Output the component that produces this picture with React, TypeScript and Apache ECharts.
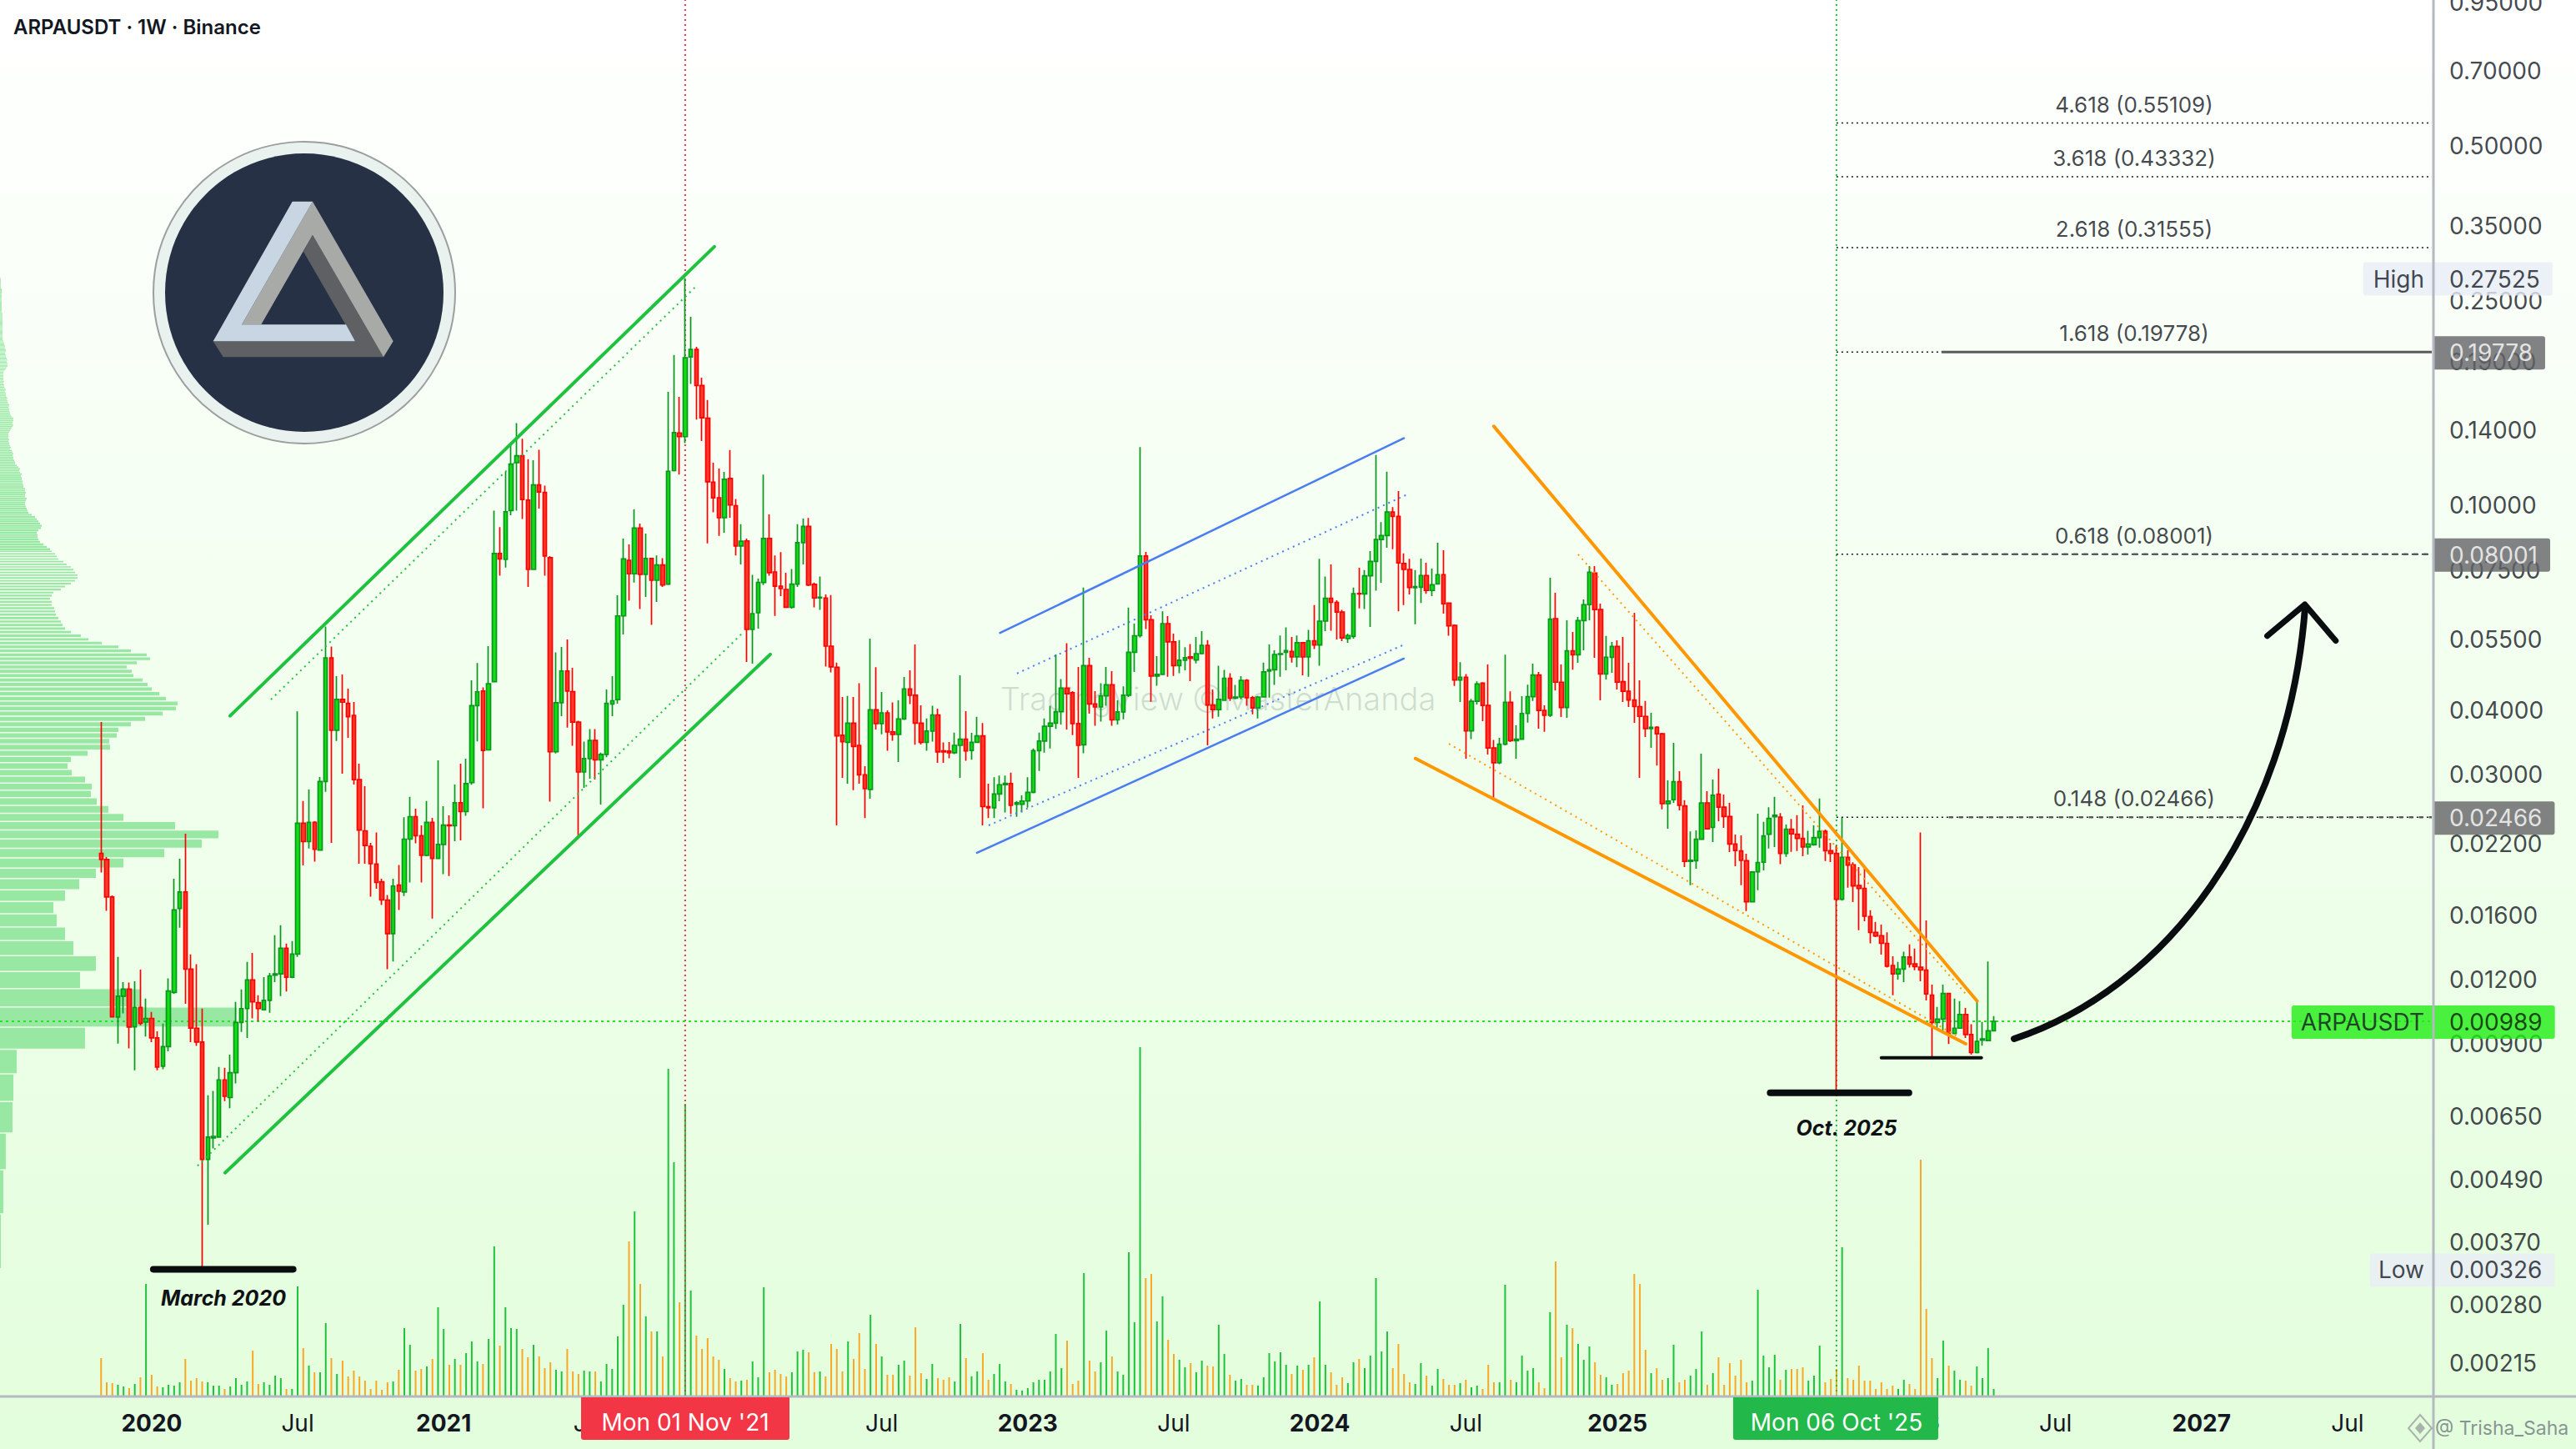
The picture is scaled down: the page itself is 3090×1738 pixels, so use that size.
import React, { useEffect, useRef } from "react";
import * as echarts from "echarts";

const FONT = "Inter, 'Noto Sans', sans-serif";
const FIRST_CANDLE_WEEK = 18; // first bar: Mon 04 Nov 2019
const TOTAL_WEEKS = 434;
const CHART_START = Date.UTC(2019, 6, 1);

const weekLabels = Array.from({ length: TOTAL_WEEKS }, (_, i) =>
  new Date(CHART_START + i * 7 * 864e5).toISOString().slice(0, 10)
);

const timeTicks: [number, string, boolean][] = [
  [27, "2020", true], [53, "Jul", false], [79, "2021", true], [105, "Jul", false], [131, "2022", true],
  [157, "Jul", false], [183, "2023", true], [209, "Jul", false], [235, "2024", true], [261, "Jul", false],
  [288, "2025", true], [314, "Jul", false], [340, "2026", true], [366, "Jul", false], [392, "2027", true], [418, "Jul", false],
];

const priceTicks = [0.95, 0.7, 0.5, 0.35, 0.25, 0.19, 0.14, 0.1, 0.075, 0.055, 0.04, 0.03, 0.022, 0.016, 0.012, 0.009, 0.0065, 0.0049, 0.0037, 0.0028, 0.00215];

// weekly [open, close, low, high]
const ohlc: number[][] = [
[.02097,.02041,.01925,.03776],[.02041,.01725,.01622,.02063],[.01725,.01009,.01009,.01737],[.01008,.01107,.00895,.0132],[.01107,.01142,.01025,.01179],
[.01142,.00964,.00876,.01176],[.00965,.01052,.00794,.01183],[.01052,.0098,.00972,.01247],[.00986,.01002,.00924,.01095],[.01002,.00918,.00901,.01031],
[.00918,.00806,.00794,.00946],[.00809,.00883,.00798,.00979],[.00883,.01133,.00865,.01198],[.01125,.01628,.01119,.01872],[.01639,.01764,.01503,.02048],
[.01764,.01249,.0107,.0229],[.01249,.00959,.00901,.01334],[.00959,.00901,.00886,.01277],[.00901,.00533,.00326,.01047],[.00533,.00589,.00398,.0071],
[.00587,.00591,.0056,.00724],[.00589,.00761,.00589,.00806],[.00761,.00707,.00692,.00803],[.00703,.00786,.0067,.00852],[.00786,.00984,.00749,.01079],
[.00984,.01047,.00943,.01141],[.01047,.0119,.00918,.0129],[.0119,.01079,.01002,.01343],[.01075,.01047,.0099,.01111],[.01041,.01086,.01039,.01205],
[.01086,.01212,.01028,.01228],[.01216,.01223,.01179,.01454],[.01223,.01371,.01107,.0152],[.01371,.01205,.0113,.014],[.01205,.01336,.012,.01417],
[.01336,.024,.0132,.0396],[.024,.02211,.01988,.0265],[.02211,.0241,.02144,.0279],[.0241,.02136,.0202,.02422],[.02128,.02893,.02128,.02952],
[.02893,.05032,.02761,.05788],[.05032,.03638,.02198,.05292],[.03638,.04179,.03468,.04637],[.04179,.04125,.02996,.04671],[.04103,.03865,.03517,.04384],
[.0389,.02918,.02855,.04129],[.02918,.02328,.02003,.03133],[.0232,.02173,.02003,.02833],[.02165,.02003,.01728,.02198],[.01999,.01841,.0179,.02302],
[.01847,.01702,.01664,.01872],[.01702,.01464,.01249,.0174],[.01464,.01812,.01293,.01872],[.01819,.0177,.01628,.0199],[.01764,.02235,.01733,.02465],
[.02235,.02472,.01841,.027],[.02472,.0227,.02193,.02562],[.0227,.02078,.01841,.02378],[.02078,.0241,.0207,.0265],[.0241,.02051,.01567,.02458],
[.02051,.02183,.02051,.0318],[.02183,.02381,.01911,.0259],[.02381,.02373,.01894,.02486],[.02373,.0263,.02215,.02853],[.0263,.02528,.02223,.03133],
[.02528,.02866,.02481,.03205],[.02878,.04061,.0285,.04549],[.04061,.04322,.03463,.04914],[.04336,.03325,.02566,.04409],[.03332,.04482,.03325,.05302],
[.04521,.08029,.0451,.09727],[.08029,.07833,.07268,.09028],[.07816,.09677,.07539,.1156],[.09727,.11975,.09526,.1305],[.1205,.1243,.09727,.1438],
[.1243,.1022,.09363,.1342],[.1019,.07474,.06911,.1224],[.07474,.1091,.07474,.1219],[.1091,.1057,.09815,.1277],[.1055,.07935,.07268,.1087],
[.0788,.03304,.02644,.07935],[.03304,.04116,.0328,.05156],[.04116,.04745,.03877,.05283],[.04745,.04336,.03682,.05465],[.04323,.03775,.03394,.04814],
[.03775,.03018,.02265,.03796],[.03018,.03206,.02812,.03457],[.03206,.03476,.0293,.03658],[.03477,.03186,.02918,.03658],[.03186,.03266,.0261,.03291],
[.03266,.04103,.03225,.04367],[.04091,.04152,.03877,.04637],[.04173,.0607,.04098,.06655],[.0607,.07833,.05588,.08583],[.07787,.07328,.06498,.08361],
[.07328,.08994,.0705,.09777],[.08994,.07309,.0626,.09178],[.07309,.07847,.06608,.08776],[.07847,.0712,.0583,.07847],[.0712,.07626,.06464,.07953],
[.07626,.06969,.06911,.07858],[.06997,.1159,.06969,.1654],[.1163,.1379,.1159,.1952],[.1377,.1354,.1143,.1618],[.1354,.1928,.1315,.27525],
[.1935,.2,.1714,.2316],[.2,.1703,.1462,.2024],[.1703,.1473,.1328,.1763],[.147,.1106,.08399,.1595],[.1104,.103,.09649,.1205],
[.103,.09419,.08683,.1174],[.09419,.1119,.08805,.1156],[.1123,.0997,.09419,.1275],[.0994,.08298,.07953,.1024],[.08298,.0848,.07645,.0915],
[.08493,.05713,.0494,.08583],[.05713,.06133,.04902,.07292],[.06156,.0705,.05734,.07174],[.0705,.08583,.06969,.1143],[.08583,.07364,.07268,.0956],
[.07391,.06935,.0607,.07953],[.06935,.06859,.06633,.08077],[.06834,.06308,.06308,.07364],[.06308,.06997,.06273,.07488],[.06997,.08424,.06911,.0915],
[.08424,.09058,.07645,.09386],[.09058,.06969,.06935,.09411],[.06994,.06577,.06308,.0705],[.06577,.06599,.06238,.07239],[.06577,.05302,.0484,.06682],
[.05302,.04831,.04713,.06665],[.04824,.03549,.02378,.04927],[.03559,.03457,.0294,.04223],[.03446,.03757,.02865,.04243],[.03757,.03384,.02784,.04223],
[.03401,.0298,.02865,.04492],[.0298,.02803,.02455,.03097],[.02791,.03988,.02679,.05482],[.03988,.03749,.03651,.04824],[.03749,.03934,.03574,.04319],
[.03934,.03613,.03318,.03979],[.03613,.03571,.03472,.04122],[.03571,.03826,.03157,.0416],[.03826,.04377,.03811,.0462],[.04377,.04255,.04092,.04759],
[.04255,.03757,.03409,.05344],[.03757,.03446,.03414,.04067],[.03446,.03625,.0332,.03836],[.03625,.03897,.03457,.04062],[.03897,.03303,.03145,.04008],
[.03318,.03303,.03145,.03446],[.03314,.03289,.0321,.03451],[.03289,.03401,.0327,.036],[.03401,.03497,.0294,.04654],[.03497,.03318,.03175,.03964],
[.03325,.03446,.03188,.03598],[.03446,.03549,.03446,.03865],[.03549,.02585,.02378,.03757],[.02585,.02572,.02455,.02865],[.02572,.02736,.02455,.02948],
[.02736,.02851,.02649,.0297],[.02851,.02868,.02519,.0297],[.02865,.026,.025,.03009],[.02614,.0263,.0247,.0265],[.02614,.02651,.02519,.02719],
[.02651,.02755,.02574,.02948],[.02755,.03321,.02743,.03354],[.03321,.03467,.03031,.036],[.03467,.03703,.03291,.03836],[.03703,.03757,.03354,.04062],
[.03757,.03955,.03661,.05108],[.03955,.04395,.03732,.04574],[.04395,.04285,.03651,.0537],[.04305,.03749,.03559,.04336],[.03749,.03401,.0294,.04831],
[.03409,.04858,.03281,.06893],[.04858,.04092,.03919,.05032],[.04092,.04038,.03714,.04336],[.04038,.04243,.03781,.04492],[.04243,.04458,.04062,.04831],
[.04458,.03811,.03714,.04741],[.03811,.03949,.03732,.0416],[.03949,.04255,.03821,.04427],[.04255,.05158,.04223,.06298],[.05158,.05555,.04724,.05864],
[.05555,.07938,.05508,.1292],[.07938,.05966,.05724,.0808],[.05966,.04637,.04132,.06088],[.04637,.04671,.04442,.0507],[.04671,.05864,.04671,.06193],
[.05864,.05406,.04621,.06064],[.05406,.04858,.04641,.05607],[.04858,.04977,.04698,.05445],[.04977,.05034,.04759,.05276],[.05054,.05019,.04535,.05352],
[.04984,.05127,.04906,.05525],[.05127,.05322,.05108,.05671],[.05322,.04073,.03401,.05445],[.04073,.03991,.03836,.04367],[.03991,.04178,.03865,.04858],
[.0416,.04592,.04147,.04768],[.04592,.04199,.04147,.04698],[.04199,.04223,.04178,.04458],[.04223,.0455,.04178,.04637],[.0455,.0421,.04062,.04574],
[.0421,.04022,.03908,.04243],[.04022,.04223,.03836,.04243],[.04223,.04724,.0421,.04927],[.04741,.04768,.0421,.05344],[.04768,.05108,.04458,.05204],
[.05108,.05127,.04621,.05559],[.05158,.05195,.04759,.05766],[.05179,.05054,.04927,.05525],[.05054,.05383,.04824,.05559],[.05383,.05051,.04654,.05403],
[.05054,.05431,.04621,.05701],[.05431,.0533,.05233,.06371],[.0533,.0593,.04858,.07836],[.0593,.06567,.05671,.07239],[.06567,.06449,.05683,.07645],
[.06449,.06174,.05464,.06511],[.06174,.055,.05424,.06237],[.05484,.05559,.05383,.05607],[.05539,.06705,.05484,.06893],[.06714,.06697,.0628,.0753],
[.06697,.07266,.0626,.07452],[.07266,.07748,.05777,.0811],[.07748,.08543,.06795,.1247],[.08543,.08696,.0704,.09235],[.08696,.09665,.08235,.1158],
[.09665,.09476,.08178,.0988],[.09476,.07694,.06193,.1061],[.07673,.07474,.06371,.08029],[.07474,.06893,.06682,.07836],[.06885,.0692,.05846,.07452],
[.06903,.07274,.0643,.07847],[.07274,.06802,.06704,.07701],[.06802,.06978,.06633,.07503],[.07005,.07302,.07005,.08424],[.07302,.06407,.06132,.0814],
[.0643,.05804,.05555,.06437],[.0582,.04555,.04437,.05842],[.04555,.04613,.04129,.04934],[.04613,.03628,.03205,.04681],[.03628,.04142,.03496,.04186],
[.04142,.04477,.04083,.04527],[.04494,.04067,.0379,.04511],[.04067,.03362,.03264,.04885],[.03362,.03145,.0268,.03486],[.03145,.03418,.03128,.03517],
[.03418,.04124,.03401,.05102],[.04124,.03473,.03451,.04331],[.03473,.03496,.03205,.03719],[.03496,.03923,.03496,.04239],[.03923,.04228,.03766,.04461],
[.04228,.04659,.04147,.04902],[.04659,.03976,.03665,.04724],[.03976,.03892,.03613,.04067],[.03892,.05985,.03862,.07201],[.05995,.04512,.04348,.06734],
[.04512,.04027,.03862,.04885],[.04027,.0519,.03847,.05952],[.0519,.05102,.04772,.0565],[.05102,.05945,.04921,.0604],[.05945,.06383,.05204,.06535],
[.06383,.0738,.05952,.07587],[.07355,.06245,.05032,.07587],[.06245,.0468,.0416,.06414],[.0468,.05045,.04567,.05548],[.05045,.05296,.04706,.05403],
[.05296,.04512,.04367,.0544],[.04522,.04331,.04129,.05525],[.04331,.04167,.04038,.04921],[.04167,.04045,.03761,.06156],[.04045,.03872,.0294,.0455],
[.03872,.03665,.03531,.04147],[.03665,.03688,.03362,.03934],[.03688,.03581,.03108,.03705],[.03581,.0262,.02553,.03598],[.0262,.0265,.02341,.02907],
[.02666,.02889,.0263,.03438],[.02889,.026,.02543,.03029],[.02594,.02024,.01973,.0266],[.02024,.02034,.01818,.02314],[.02029,.02234,.01958,.02324],
[.02234,.02629,.02234,.03276],[.02629,.02341,.02333,.02771],[.02355,.02719,.02206,.02918],[.02734,.02579,.02422,.03063],[.02579,.02474,.0235,.02729],
[.02474,.02186,.0211,.02629],[.02186,.02125,.0198,.02282],[.0212,.02032,.01818,.02273],[.02029,.01689,.0162,.02094],[.01689,.01929,.01689,.01936],
[.01931,.02012,.01779,.02505],[.02015,.02268,.01943,.02414],[.02284,.02453,.02143,.02579],[.0247,.02487,.02157,.027],[.02467,.02096,.01998,.02511],
[.02096,.02336,.02065,.02386],[.02336,.02288,.02112,.02446],[.02284,.02242,.0212,.02487],[.02242,.02159,.0207,.026],[.02159,.02186,.02086,.02321],
[.0218,.0225,.0217,.02378],[.0225,.02315,.02151,.0268],[.02315,.02123,.02026,.02333],[.02123,.02096,.02018,.02198],[.02096,.01708,.00723,.0217],
[.01708,.0206,.01697,.02463],[.0206,.01989,.01799,.02128],[.01992,.01813,.01686,.02016],[.01816,.01793,.01487,.01973],[.01793,.01583,.01548,.01965],
[.01581,.01472,.01402,.01626],[.01472,.01449,.01442,.01543],[.01451,.01402,.01333,.01525],[.01402,.01266,.01258,.01473],[.0127,.01223,.01111,.01323],
[.01223,.01249,.01192,.0129],[.01249,.01319,.01179,.0135],[.01319,.01277,.01258,.01395],[.01279,.01263,.01243,.01369],[.0126,.01244,.01183,.02303],
[.01244,.01118,.01086,.01553],[.01112,.00984,.00839,.01166],[.00984,.00999,.00957,.01055],[.00999,.0112,.00942,.01166],[.0112,.00936,.00893,.01123],
[.00936,.00959,.00933,.01095],[.00959,.0102,.00957,.01083],[.0102,.00932,.00918,.0105],[.00932,.0086,.00852,.00976],[.0086,.00904,.00857,.01086],
[.00909,.00914,.00887,.00986],[.00907,.00948,.00907,.01293],[.00948,.00989,.00946,.01012],
];

// volume, in arbitrary units
const volume = [
45,16,15,13,11,9,14,22,134,25,11,10,13,12,16,44,18,21,17,16,12,12,8,11,21,13,17,54,14,16,13,24,21,8,8,131,57,36,28,28,
87,45,26,42,23,30,23,18,8,18,7,16,17,31,81,61,30,32,35,44,106,80,37,44,37,51,65,41,38,68,179,60,106,81,80,56,46,61,47,33,
40,31,29,56,29,26,30,29,29,17,38,32,71,109,185,221,134,95,77,77,47,392,280,112,350,126,72,56,69,47,43,32,21,17,18,19,41,22,130,28,
31,26,23,28,53,55,52,28,29,23,62,56,29,65,44,75,32,97,62,47,25,25,37,42,24,82,27,20,38,21,19,22,17,86,45,23,29,51,19,26,
38,17,14,7,6,9,16,19,19,29,74,33,66,14,18,147,42,29,40,78,47,29,25,172,88,418,141,146,89,119,67,50,43,34,39,28,42,36,35,85,
50,25,18,20,13,13,12,22,51,41,52,37,26,36,31,37,46,113,37,28,13,22,15,40,44,33,48,141,53,77,33,62,26,16,14,39,24,12,32,20,
13,13,15,19,10,12,8,37,16,16,133,19,16,48,30,33,16,9,100,161,46,85,81,62,43,59,40,25,22,13,14,27,30,146,134,55,27,33,19,21,
61,16,19,24,32,77,13,27,46,13,39,24,43,16,18,127,48,34,49,19,31,32,32,34,18,24,60,16,20,32,178,21,19,36,18,18,8,16,8,12,
8,19,14,8,283,104,45,21,66,36,30,19,18,12,35,21,57,8,
];

// fixed-range volume profile, 300 equal price rows above the all-time low
const PROFILE_LOW = 0.00326;
const PROFILE_STEP = 0.000907;
const profileWidths = [
1,4,7,15,16,20,102,284,168,96,115,88,78,68,64,78,95,115,148,197,242,262,210,148,130,116,109,110,102,86,81,85,105,132,131,140,142,157,174,195,
211,213,199,191,182,177,171,160,158,152,164,180,176,157,142,122,106,97,85,78,75,73,70,67,66,65,62,62,60,62,64,73,78,85,90,93,93,90,88,85,
80,76,70,68,66,62,60,56,52,48,46,45,45,44,46,49,50,48,46,44,42,38,34,33,32,31,30,30,31,32,30,30,31,30,30,28,28,27,27,26,
26,25,26,24,23,24,22,20,18,18,17,16,16,15,16,15,14,12,13,12,11,11,10,11,10,10,10,10,11,12,13,14,15,16,15,15,16,16,16,14,
13,12,12,11,11,11,10,11,11,10,9,9,8,9,8,7,7,7,6,6,7,6,5,5,5,4,4,5,4,4,4,4,4,4,4,4,5,6,7,8,
9,9,9,9,8,8,9,8,8,7,7,7,6,6,7,7,7,6,6,6,6,5,5,5,4,4,3,3,3,3,3,3,3,3,3,3,3,3,3,3,
3,3,3,3,3,3,3,3,3,3,3,3,3,3,3,3,2,2,2,2,2,2,2,2,2,2,2,2,2,2,2,2,2,2,2,2,2,2,2,2,
2,2,2,2,2,2,1,1,1,1,1,1,1,1,1,1,1,1,1,1,
];

// drawn lines, in [week index, price]
const channelLines: { pts: number[][]; color: string; width: number; dash?: number[] }[] = [
  { pts: [[40.97, 0.0388], [127.2, 0.3168]], color: "#1fc23f", width: 4 },
  { pts: [[40.08, 0.00502], [137.15, 0.05108]], color: "#1fc23f", width: 4 },
  { pts: [[48.24, 0.04175], [123.7, 0.2638]], color: "#1fc23f", width: 2, dash: [2, 5] },
  { pts: [[35.18, 0.00518], [132.1, 0.05608]], color: "#1fc23f", width: 2, dash: [2, 5] },
  { pts: [[178.06, 0.05623], [249.96, 0.1345]], color: "#4a7df0", width: 2.5 },
  { pts: [[173.96, 0.02102], [249.96, 0.05014]], color: "#4a7df0", width: 2.5 },
  { pts: [[181.09, 0.04692], [250.96, 0.105]], color: "#4a7df0", width: 2, dash: [2, 5] },
  { pts: [[176.04, 0.02377], [249.92, 0.05332]], color: "#4a7df0", width: 2, dash: [2, 5] },
  { pts: [[265.99, 0.1418], [352.04, 0.01083]], color: "#ff9800", width: 4 },
  { pts: [[252.04, 0.03207], [350.01, 0.00894]], color: "#ff9800", width: 4 },
  { pts: [[280.99, 0.07994], [350.01, 0.01118]], color: "#ff9800", width: 2, dash: [2, 5] },
  { pts: [[257.98, 0.03424], [348.53, 0.00925]], color: "#ff9800", width: 2, dash: [2, 5] },
];

const supportBars: { pts: number[][]; width: number }[] = [
  { pts: [[27.3, 0.00326], [52.2, 0.00326]], width: 8 },
  { pts: [[315.2, 0.00718], [339.9, 0.00718]], width: 8 },
  { pts: [[335, 0.0084], [352.8, 0.0084]], width: 4 },
];

const arrowHead = [[403.7, 0.0555], [410.4, 0.0639], [415.9, 0.0543]];

const fibLevels = [
  { name: "4.618 (0.55109)", price: 0.55109 },
  { name: "3.618 (0.43332)", price: 0.43332 },
  { name: "2.618 (0.31555)", price: 0.31555 },
  { name: "1.618 (0.19778)", price: 0.19778 },
  { name: "0.618 (0.08001)", price: 0.08001 },
  { name: "0.148 (0.02466)", price: 0.02466 },
];
const fibStartWeek = 327;
const HIGH = 0.27525;
const LOW = 0.00326;
const LAST = 0.00989;
const NOV21_WEEK = 122;
const OCT25_WEEK = 327;
const Y_MAX = 0.9558;
const Y_MIN = 0.0018448;

const lineOn = (name: string, data: number[][], style: any, extra: any = {}) => ({
  name,
  type: "line",
  xAxisIndex: 1,
  yAxisIndex: 0,
  data,
  showSymbol: false,
  symbol: "none",
  silent: true,
  clip: false,
  z: 6,
  lineStyle: { cap: "round", join: "round", ...style },
  ...extra,
});

export default function App() {
  const ref = useRef<HTMLDivElement>(null);
  useEffect(() => {
    document.body.style.margin = "0";
    const chart = echarts.init(ref.current!, undefined, { renderer: "svg" });
    const tickMap = new Map(timeTicks.map((t) => [t[0], t]));
    const candleData = ohlc.map((r, i) => [i + FIRST_CANDLE_WEEK, ...r]);
    const volumeData = volume.map((v, i) => {
      const r = ohlc[i];
      const up = r ? r[1] >= r[0] : true;
      return { value: [i + FIRST_CANDLE_WEEK, v], itemStyle: { color: up ? "#1fc23c" : "#f9a825" } };
    });
    const profileData = profileWidths.map((w, k) => [PROFILE_LOW + k * PROFILE_STEP, PROFILE_LOW + (k + 1) * PROFILE_STEP, w]);

    const rightTag = (value: number, bg: string, color: string) => ({
      value: [433, value],
      label: {
        show: true, position: "right", distance: 3, offset: [0, 1], formatter: value.toFixed(5), backgroundColor: bg, color,
        padding: [6, 15, 6, 18], borderRadius: [0, 3, 3, 0], fontSize: 28, fontFamily: FONT, lineHeight: 28,
      },
    });
    const leftTag = (value: number, text: string, bg: string, pad: number) => ({
      value: [433, value],
      label: {
        show: true, position: "left", distance: -2, offset: [0, 1], formatter: text, backgroundColor: bg, color: "#131722",
        padding: [6, 11, 6, pad], borderRadius: [3, 0, 0, 3], fontSize: 28, fontFamily: FONT, lineHeight: 28,
      },
    });

    const fibSeries: any[] = fibLevels.map((f) =>
      lineOn("fib " + f.name, [[fibStartWeek, f.price], [433, f.price]], { color: "#131722", width: 1.5, type: [2, 4], cap: "butt" })
    );

    const option: any = {
      animation: false,
      backgroundColor: new echarts.graphic.LinearGradient(0, 0, 0, 1, [
        { offset: 0, color: "#ffffff" },
        { offset: 1, color: "#e3fedc" },
      ]),
      grid: { left: 0, top: 0, width: 2917, height: 1675, containLabel: false },
      tooltip: { show: false },
      xAxis: [
        {
          type: "category", data: weekLabels, boundaryGap: false, axisLine: { show: false }, axisTick: { show: false }, splitLine: { show: false },
          axisLabel: {
            margin: 18, hideOverlap: false, interval: (i: number) => tickMap.has(i),
            formatter: (_: string, i: number) => { const t = tickMap.get(i); return t ? (t[2] ? `{y|${t[1]}}` : `{m|${t[1]}}`) : ""; },
            rich: {
              y: { fontFamily: FONT, fontSize: 28, fontWeight: 700, color: "#131722" },
              m: { fontFamily: FONT, fontSize: 28, fontWeight: 400, color: "#131722" },
            },
          },
        },
        { type: "value", min: 0, max: 433, show: false, splitLine: { show: false } },
        { type: "value", min: 0, max: 2917, show: false, splitLine: { show: false } },
      ],
      yAxis: [
        { type: "log", logBase: 10, min: Y_MIN, max: Y_MAX, position: "right", axisLine: { show: false }, axisTick: { show: false }, axisLabel: { show: false }, splitLine: { show: false } },
        { type: "value", min: -1, max: 1674, show: false, splitLine: { show: false } },
      ],
      series: [
        {
          name: "Volume profile", type: "custom", xAxisIndex: 2, yAxisIndex: 0, z: 1, silent: true, clip: false,
          data: profileData, encode: { x: 2, y: [0, 1] },
          renderItem: (_: any, api: any) => {
            const a = api.coord([0, api.value(1)]);
            const b = api.coord([api.value(2), api.value(0)]);
            const h = b[1] - a[1];
            return { type: "rect", shape: { x: a[0], y: a[1], width: b[0] - a[0], height: h > 3 ? h - 1.5 : Math.max(h - 0.5, 0.8) }, style: { fill: "#98e8a4" } };
          },
        },
        { name: "Volume", type: "bar", xAxisIndex: 0, yAxisIndex: 1, barWidth: 2, z: 2, silent: true, data: volumeData },
        lineOn("Cross Nov 21", [[NOV21_WEEK, Y_MIN], [NOV21_WEEK, Y_MAX]], { color: "#e0364a", width: 2, type: [2, 4], cap: "butt" }, { z: 2 }),
        lineOn("Cross Oct 25", [[OCT25_WEEK, Y_MIN], [OCT25_WEEK, Y_MAX]], { color: "#1fc23f", width: 2, type: [2, 4], cap: "butt" }, { z: 2 }),
        lineOn("Last price", [[0, LAST], [433, LAST]], { color: "#22e61e", width: 2, type: [3, 4], cap: "butt" }, { z: 2 }),
        {
          name: "ARPAUSDT", type: "candlestick", xAxisIndex: 0, yAxisIndex: 0, barWidth: 5, z: 4, silent: true, clip: false,
          data: candleData, encode: { x: 0, y: [1, 2, 3, 4] },
          itemStyle: { color: "#12dc12", color0: "#ff3a2a", borderColor: "#0a961e", borderColor0: "#fb0000", borderWidth: 1.7 },
        },
        ...channelLines.map((l, i) => lineOn("Channel " + i, l.pts, { color: l.color, width: l.width, type: l.dash || "solid", cap: l.dash ? "butt" : "round" })),
        ...fibSeries,
        lineOn("Ray 1.618", [[345.7, 0.19778], [433, 0.19778]], { color: "#5a5a5e", width: 3, cap: "butt" }),
        lineOn("Ray 0.618", [[346, 0.08001], [433, 0.08001]], { color: "#5a5a5e", width: 2.5, type: [5, 7], cap: "butt" }),
        lineOn("Ray 0.148", [[347, 0.02466], [433, 0.02466]], { color: "#5a5a5e", width: 2.5, type: [5, 7], cap: "butt" }),
        ...supportBars.map((b, i) => lineOn("Support " + i, b.pts, { color: "#0a0d0f", width: b.width }, { z: 5 })),
        lineOn("Arrow head", arrowHead, { color: "#0a0d0f", width: 7 }, { z: 7 }),
        {
          name: "Fib labels", type: "scatter", xAxisIndex: 1, yAxisIndex: 0, symbolSize: 0, silent: true, clip: false, z: 7,
          data: fibLevels.map((f) => ({ value: [380, f.price], name: f.name })),
          label: { show: true, position: "top", distance: 11, offset: [0, 1.5], formatter: "{b}", color: "#131722", fontSize: 26, fontFamily: FONT },
        },
        {
          name: "Price scale", type: "scatter", xAxisIndex: 1, yAxisIndex: 0, symbolSize: 0, silent: true, clip: false, z: 3,
          data: priceTicks.map((p) => [433, p]),
          label: { show: true, position: "right", distance: 21, offset: [0, 1.5], formatter: (d: any) => d.value[1].toFixed(5), color: "#131722", fontSize: 28, fontFamily: FONT },
        },
        {
          name: "Price tags", type: "scatter", xAxisIndex: 1, yAxisIndex: 0, symbolSize: 0, silent: true, clip: false, z: 20,
          data: [
            leftTag(HIGH, "High", "#e8ecf6", 12),
            leftTag(LOW, "Low", "#e8ecf6", 10),
            leftTag(LAST, "ARPAUSDT", "#22ec14", 11),
            rightTag(HIGH, "#e8ecf6", "#131722"),
            rightTag(LOW, "#e8ecf6", "#131722"),
            rightTag(LAST, "#22ec14", "#0a1a0a"),
            rightTag(0.19778, "#636366", "#ffffff"),
            rightTag(0.08001, "#636366", "#ffffff"),
            rightTag(0.02466, "#636366", "#ffffff"),
          ],
        },
      ],
      graphic: {
        elements: [
          { type: "text", z: 0, silent: true, style: { text: "TradingView @MasterAnanda", x: 1461, y: 838, textAlign: "center", textVerticalAlign: "middle", fontFamily: FONT, fontSize: 38, fontWeight: 300, fill: "rgba(120,135,130,0.28)" } },
          { type: "bezierCurve", z: 7, silent: true, shape: { x1: 2416, y1: 1246, cpx1: 2600, cpy1: 1185, cpx2: 2745, cpy2: 990, x2: 2765, y2: 729 }, style: { fill: "none", stroke: "#0a0d0f", lineWidth: 8, lineCap: "round" } },
          { type: "line", z: 50, silent: true, shape: { x1: 2919, y1: 0, x2: 2919, y2: 1738 }, style: { stroke: "#b4b8c0", lineWidth: 3 } },
          { type: "line", z: 50, silent: true, shape: { x1: 0, y1: 1675, x2: 3090, y2: 1675 }, style: { stroke: "#b4b8c0", lineWidth: 3 } },
          { type: "text", z: 60, style: { text: "ARPAUSDT · 1W · Binance", x: 16, y: 32, textVerticalAlign: "middle", fontFamily: FONT, fontSize: 24, fontWeight: 600, fill: "#131722" } },
          { type: "circle", z: 30, shape: { cx: 365, cy: 351, r: 181 }, style: { fill: "#e9f2ee", stroke: "#9c9f9f", lineWidth: 2 } },
          { type: "circle", z: 31, shape: { cx: 365, cy: 351, r: 167 }, style: { fill: "#263145" } },
          { type: "polygon", z: 32, shape: { points: [[375, 281.7], [460, 428.3], [267.7, 428.3], [255.7, 409.3], [426, 409.3], [364, 301.7]] }, style: { fill: "#5f6064" } },
          { type: "polygon", z: 33, shape: { points: [[375, 241.7], [471.7, 409.3], [460, 428.3], [375, 281.7], [313.3, 389.3], [290, 389.3]] }, style: { fill: "#a8aaa7" } },
          { type: "polygon", z: 34, shape: { points: [[350.7, 241.7], [375, 241.7], [290, 389.3], [415, 389.3], [426, 409.3], [255.7, 409.3]] }, style: { fill: "#c8d5e2" } },
          { type: "text", z: 60, style: { text: "March 2020", x: 268, y: 1557, textAlign: "center", textVerticalAlign: "middle", fontFamily: FONT, fontSize: 25, fontWeight: 700, fontStyle: "italic", fill: "#0f1214" } },
          { type: "text", z: 60, style: { text: "Oct. 2025", x: 2215, y: 1353, textAlign: "center", textVerticalAlign: "middle", fontFamily: FONT, fontSize: 25, fontWeight: 700, fontStyle: "italic", fill: "#0f1214" } },
          { type: "rect", z: 55, shape: { x: 697, y: 1676, width: 250, height: 51, r: [0, 0, 3, 3] }, style: { fill: "#f23645" } },
          { type: "text", z: 56, style: { text: "Mon 01 Nov '21", x: 822, y: 1706, textAlign: "center", textVerticalAlign: "middle", fontFamily: FONT, fontSize: 28, fill: "#ffffff" } },
          { type: "rect", z: 55, shape: { x: 2079, y: 1676, width: 246, height: 51, r: [0, 0, 3, 3] }, style: { fill: "#22b84a" } },
          { type: "text", z: 56, style: { text: "Mon 06 Oct '25", x: 2203, y: 1706, textAlign: "center", textVerticalAlign: "middle", fontFamily: FONT, fontSize: 28, fill: "#ffffff" } },
          { type: "polygon", z: 60, shape: { points: [[2903, 1697], [2917, 1713], [2903, 1729], [2889, 1713]] }, style: { fill: "none", stroke: "rgba(150,155,155,0.75)", lineWidth: 2 } },
          { type: "polygon", z: 60, shape: { points: [[2903, 1706], [2909, 1713], [2903, 1720], [2897, 1713]] }, style: { fill: "rgba(150,155,155,0.75)" } },
          { type: "text", z: 60, style: { text: "@ Trisha_Saha", x: 2921, y: 1713, textVerticalAlign: "middle", fontFamily: FONT, fontSize: 23, fill: "rgba(110,120,125,0.8)" } },
        ],
      },
    };
    chart.setOption(option);
    return () => chart.dispose();
  }, []);
  return <div ref={ref} style={{ position: "absolute", left: 0, top: 0, width: 3090, height: 1738 }} />;
}
